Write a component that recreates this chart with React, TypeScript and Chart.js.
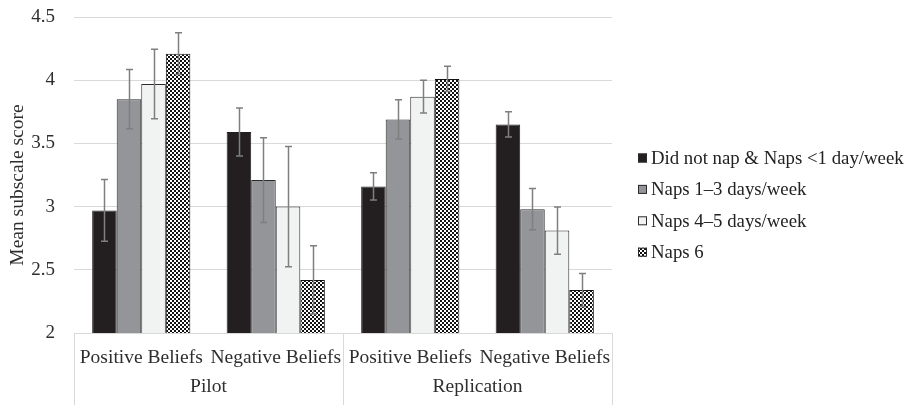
import React, { useEffect, useRef } from 'react';
import { Chart, registerables } from 'chart.js';

Chart.register(...registerables);

const categories = ['Positive Beliefs', 'Negative Beliefs', 'Positive Beliefs', 'Negative Beliefs'];
const groups = ['Pilot', 'Replication'];
const seriesNames = ['Did not nap & Naps <1 day/week', 'Naps 1–3 days/week', 'Naps 4–5 days/week', 'Naps 6'];
const yTitle = 'Mean subscale score';

const didNotNap = [2.97, 3.59, 3.16, 3.65];
const naps1to3 = [3.85, 3.21, 3.69, 2.98];
const naps4to5 = [3.97, 3.0, 3.87, 2.81];
const naps6 = [4.21, 2.42, 4.01, 2.34];

const errDidNotNap = [0.245, 0.19, 0.108, 0.1];
const errNaps1to3 = [0.235, 0.335, 0.155, 0.163];
const errNaps4to5 = [0.275, 0.475, 0.13, 0.187];
const errNaps6 = [0.165, 0.27, 0.1, 0.13];

const yMin = 2;
const yMax = 4.5;
const yStep = 0.5;

const FONT = "'Liberation Serif', 'Times New Roman', serif";
const TEXT = '#2e2e2e';
const GRID = '#d9d9d9';

function makeChecker(): CanvasPattern | string {
  const c = document.createElement('canvas');
  c.width = 4;
  c.height = 4;
  const g = c.getContext('2d');
  if (!g) return '#888';
  g.fillStyle = '#ffffff';
  g.fillRect(0, 0, 4, 4);
  g.fillStyle = '#111111';
  g.fillRect(0, 0, 2, 2);
  g.fillRect(2, 2, 2, 2);
  const p = g.createPattern(c, 'repeat');
  return p || '#888';
}

const errorBarPlugin = {
  id: 'errorBars',
  afterDatasetsDraw(chart: any) {
    const ctx = chart.ctx;
    const ys = chart.scales.y;
    ctx.save();
    ctx.strokeStyle = '#7f7f7f';
    ctx.lineWidth = 1.5;
    chart.data.datasets.forEach((ds: any, i: number) => {
      const meta = chart.getDatasetMeta(i);
      meta.data.forEach((el: any, j: number) => {
        const v = ds.data[j];
        const e = ds.errors[j];
        const x = Math.round(el.x) + 0.5;
        const yt = ys.getPixelForValue(v + e);
        const yb = ys.getPixelForValue(v - e);
        const cap = 3.5;
        ctx.beginPath();
        ctx.moveTo(x, yt);
        ctx.lineTo(x, yb);
        ctx.moveTo(x - cap, yt);
        ctx.lineTo(x + cap, yt);
        ctx.moveTo(x - cap, yb);
        ctx.lineTo(x + cap, yb);
        ctx.stroke();
      });
    });
    ctx.restore();
  },
};

const decorPlugin = {
  id: 'decor',
  afterDraw(chart: any) {
    const ctx = chart.ctx;
    const xs = chart.scales.x;
    const area = chart.chartArea;
    const left = area.left;
    const right = area.right;
    const mid = (xs.getPixelForValue(1) + xs.getPixelForValue(2)) / 2;
    ctx.save();
    ctx.strokeStyle = GRID;
    ctx.lineWidth = 1;
    [left, mid, right].forEach((x) => {
      const px = Math.round(x) + 0.5;
      ctx.beginPath();
      ctx.moveTo(px, area.bottom);
      ctx.lineTo(px, chart.height);
      ctx.stroke();
    });
    ctx.fillStyle = TEXT;
    ctx.font = `19.5px ${FONT}`;
    ctx.textAlign = 'center';
    ctx.textBaseline = 'alphabetic';
    ctx.fillText(groups[0], (left + mid) / 2, area.bottom + 59);
    ctx.fillText(groups[1], (mid + right) / 2, area.bottom + 59);

    // y axis title
    ctx.save();
    ctx.translate(18, (area.top + area.bottom) / 2 + 10);
    ctx.rotate(-Math.PI / 2);
    ctx.textBaseline = 'middle';
    ctx.fillText(yTitle, 0, 0);
    ctx.restore();

    // legend
    const lx = area.right + 26;
    const ly0 = 158;
    const dy = 31.4;
    ctx.font = `18.8px ${FONT}`;
    chart.data.datasets.forEach((ds: any, i: number) => {
      const cy = ly0 + i * dy;
      ctx.fillStyle = ds.backgroundColor;
      ctx.fillRect(lx, cy - 4.5, 9, 9);
      ctx.strokeStyle = '#2b2b2b';
      ctx.lineWidth = 1;
      ctx.strokeRect(lx + 0.5, cy - 4, 8, 8);
      ctx.fillStyle = '#222222';
      ctx.textAlign = 'left';
      ctx.textBaseline = 'middle';
      ctx.fillText(ds.label, lx + 13, cy + 1);
    });
    ctx.restore();
  },
};

export default function App() {
  const ref = useRef<HTMLCanvasElement | null>(null);
  useEffect(() => {
    if (!ref.current) return;
    const checker = makeChecker();
    const chart = new Chart(ref.current, {
      type: 'bar',
      data: {
        labels: categories,
        datasets: [
          { label: seriesNames[0], data: didNotNap, errors: errDidNotNap, backgroundColor: '#231f20', borderColor: '#231f20', borderWidth: 1 },
          { label: seriesNames[1], data: naps1to3, errors: errNaps1to3, backgroundColor: '#939598', borderColor: '#2b2b2b', borderWidth: 1 },
          { label: seriesNames[2], data: naps4to5, errors: errNaps4to5, backgroundColor: '#f1f2f2', borderColor: '#2b2b2b', borderWidth: 1 },
          { label: seriesNames[3], data: naps6, errors: errNaps6, backgroundColor: checker, borderColor: '#111111', borderWidth: 1 },
        ] as any,
      },
      options: {
        responsive: false,
        animation: false,
        layout: { padding: { top: 17, bottom: 22.6, left: 0, right: 309 } },
        datasets: { bar: { categoryPercentage: 0.73, barPercentage: 1.0 } },
        plugins: { legend: { display: false }, tooltip: { enabled: false } },
        scales: {
          x: {
            grid: { display: false, drawTicks: false },
            border: { display: true, color: GRID },
            ticks: { font: { family: FONT, size: 19.5 }, color: TEXT, padding: 13, maxRotation: 0, autoSkip: false },
          },
          y: {
            min: yMin,
            max: yMax,
            grid: { color: GRID, drawTicks: true, tickLength: 19, tickColor: 'rgba(0,0,0,0)' },
            border: { display: false },
            ticks: {
              stepSize: yStep,
              font: { family: FONT, size: 19 },
              color: TEXT,
              padding: 0,
              callback: (v: any) => `${Number(v)}`,
            },
            afterFit(scale: any) {
              scale.width = 74;
            },
          },
        },
      } as any,
      plugins: [errorBarPlugin, decorPlugin],
    });
    return () => chart.destroy();
  }, []);
  return (
    <div style={{ position: 'fixed', left: 0, top: 0, width: 921, height: 405, background: '#fff' }}>
      <canvas ref={ref} width={921} height={405} style={{ display: 'block' }} />
    </div>
  );
}
